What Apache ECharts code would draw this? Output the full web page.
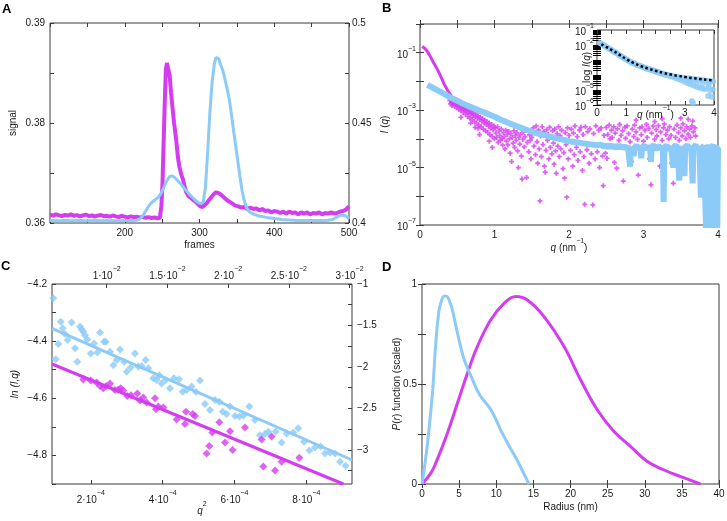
<!DOCTYPE html>
<html><head><meta charset="utf-8">
<script src="https://cdn.jsdelivr.net/npm/echarts@6/dist/echarts.min.js"></script>
<style>html,body{margin:0;padding:0;background:#fff}#c{width:727px;height:521px}</style>
</head><body><div id="c"></div>
<script>
// ---------- Panel A ----------
const aMagFrames = [100,104,108,112,116,120,124,128,132,136,140,144,148,152,156,160,164,168,172,176,180,184,188,192,196,200,204,208,212,216,220,224,228,232,236,240,244,247,249,250.5,252,253.5,255,256.5,258,260,262,264,266,269,271,273,275.5,278,280,282,285,289,292,295,298,301,304,307,310,313,316,319,322,325,328,331,334,337,340,344,348,352,356,360,364,368,372,376,380,384,388,392,396,400,404,408,412,416,420,424,428,432,436,440,444,448,452,456,460,464,468,472,476,480,484,488,492,496,500];
const aMag = [0.36125,0.36110,0.36130,0.36115,0.36105,0.36120,0.36112,0.36130,0.36108,0.36118,0.36100,0.36115,0.36125,0.36105,0.36112,0.36098,0.36110,0.36120,0.36102,0.36108,0.36095,0.36112,0.36100,0.36090,0.36105,0.36095,0.36085,0.36100,0.36088,0.36095,0.36080,0.36092,0.36078,0.36088,0.36075,0.36082,0.36070,
0.36078,0.3625,0.3660,0.3720,0.3780,0.3830,0.3840,0.3832,0.3822,0.3795,0.3772,0.3750,0.3723,0.3700,0.3685,0.3673,0.3665,0.3655,0.3647,0.3641,0.3637,0.3634,0.3632,0.3628,0.3625,0.3624,0.3627,0.3630,0.3635,0.3639,0.3643,0.3646,0.3645,0.3643,0.3640,0.3637,0.3634,0.3632,
0.3629,0.3626,0.3625,0.3623,0.3624,0.3621,0.3623,0.3621,0.3622,0.3619,0.3621,0.3618,0.3619,0.3616,0.3618,0.3617,0.3615,0.3617,0.3614,0.3617,0.3615,0.3616,0.3613,0.3616,0.3614,0.3616,0.3613,0.3615,0.3614,0.3616,0.3613,0.3615,0.3614,0.3616,0.3614,0.3615,0.3617,0.3618,0.3620,0.3625];
const aBlueFrames = [100,110,120,130,140,150,160,170,180,190,200,210,216,220,224,228,232,236,240,244,248,252,256,260,263,266,270,275,280,285,290,295,299,302,305,308,311,314,317,320,322,324,326,328,331,334,337,340,343,346,349,352,354,357,360,363,367,372,380,390,400,410,420,430,440,450,460,470,478,484,488,492,496,500];
const aBlue = [.4012,.4011,.4012,.4011,.4012,.4011,.4012,.4011,.4012,.4011,.4012,.4012,.4014,.4020,.4035,.4060,.4085,.4102,.4115,.4125,.4145,.4175,.4210,.4232,
.4236,.4230,.4215,.4195,.4172,.4150,.4130,.4112,.4100,.4098,.4105,.4180,.4360,.4560,.4710,.4800,.4828,.4832,.4820,.4795,
.4765,.4720,.4670,.4615,.4535,.4450,.4370,.4290,.4235,.4160,.4110,.4075,.4055,.4045,.4035,.4028,.4022,.4018,.4015,.4013,.4012,.4012,.4012,.4013,.4018,.4030,.4038,.4040,.4034,.4022];
const aXLabelVals = [200,300,400,500];
const aLeftLabelVals = [0.36,0.375,0.39];
const aLeftLabels = ['0.36','0.38','0.39'];
const aRightLabelVals = [0.4,0.45,0.5];
const aRightLabels = ['0.4','0.45','0.5'];

// ---------- Panel B (log10 of I) ----------
const bMagLineQ = [0.03,0.06,0.10,0.14,0.18,0.22,0.26,0.30,0.34,0.38,0.42];
const bMagLineV = [-0.78,-0.84,-0.96,-1.14,-1.34,-1.52,-1.72,-1.95,-2.17,-2.35,-2.50];
const bMagPts = [
[0.40,-2.66],[0.41,-2.78],[0.42,-2.70],[0.43,-2.84],[0.44,-2.74],[0.45,-2.69],[0.46,-2.86],[0.47,-2.79],[0.48,-2.74],[0.49,-2.92],
[0.50,-2.83],[0.51,-2.78],[0.52,-2.97],[0.53,-2.88],[0.54,-2.82],[0.55,-3.02],[0.56,-2.93],[0.57,-2.86],[0.58,-3.08],[0.59,-2.98],
[0.60,-2.92],[0.61,-3.14],[0.62,-3.03],[0.63,-2.97],[0.64,-3.22],[0.65,-3.09],[0.66,-3.01],[0.67,-3.27],[0.68,-3.13],[0.69,-3.06],
[0.70,-3.33],[0.71,-3.18],[0.72,-3.11],[0.73,-3.40],[0.74,-3.24],[0.75,-3.15],[0.76,-3.46],[0.77,-3.28],[0.78,-3.20],[0.79,-3.52],
[0.80,-3.33],[0.81,-3.25],[0.82,-3.58],[0.83,-3.39],[0.84,-3.30],[0.85,-3.66],[0.86,-3.44],[0.87,-3.35],[0.88,-3.72],[0.89,-3.50],
[0.90,-3.40],[0.91,-3.78],[0.92,-3.56],[0.93,-3.45],[0.94,-3.86],[0.95,-3.62],[0.96,-3.50],[0.97,-3.92],[0.98,-3.68],[0.99,-3.55],
[1.00,-4.00],[0.55,-3.25],[0.68,-3.45],[0.74,-3.60],[0.78,-3.63],[0.80,-3.85],[0.93,-4.08],[0.97,-4.30],
[1.01,-3.62],[1.02,-3.80],[1.03,-3.95],[1.04,-3.58],[1.05,-4.12],[1.06,-3.72],[1.07,-3.88],[1.08,-4.05],[1.09,-3.66],[1.10,-3.98],
[1.11,-4.22],[1.12,-3.78],[1.13,-3.92],[1.14,-4.35],[1.15,-3.70],[1.16,-4.08],[1.17,-3.85],[1.18,-4.21],[1.19,-3.74],[1.20,-4.00],
[1.21,-4.50],[1.22,-3.82],[1.23,-4.79],[1.24,-3.95],[1.25,-4.15],[1.26,-3.72],[1.27,-4.30],[1.28,-3.88],[1.29,-4.05],[1.30,-3.78],
[1.31,-4.42],[1.32,-5.00],[1.33,-3.95],[1.34,-4.18],[1.35,-3.84],[1.36,-4.60],[1.37,-5.40],[1.38,-4.02],[1.39,-3.76],[1.40,-4.28],
[1.41,-3.92],[1.43,-5.35],[1.44,-4.12],[1.45,-3.70],[1.46,-4.45],[1.47,-3.86],[1.48,-4.05],[1.49,-4.70],[1.50,-3.95],
[1.52,-3.62],[1.53,-4.25],[1.54,-3.80],[1.55,-4.55],[1.56,-3.55],[1.57,-4.10],[1.58,-4.85],[1.59,-3.70],[1.60,-4.35],[1.61,-6.16],
[1.62,-3.90],[1.63,-4.62],[1.64,-3.58],[1.65,-4.20],[1.66,-3.75],[1.67,-4.95],[1.68,-5.16],[1.69,-4.40],[1.70,-3.68],[1.71,-4.05],
[1.72,-3.85],[1.73,-4.70],[1.74,-3.60],[1.75,-4.30],[1.76,-3.95],[1.77,-4.52],[1.78,-3.72],[1.79,-4.15],[1.80,-4.88],[1.81,-3.66],
[1.82,-4.42],[1.83,-5.20],[1.84,-3.82],[1.85,-4.25],[1.86,-3.58],[1.87,-4.62],[1.88,-3.90],[1.89,-4.35],[1.90,-3.70],[1.92,-5.04],
[1.93,-4.48],[1.94,-5.37],[1.95,-3.78],[1.96,-4.20],[1.97,-6.03],[1.98,-3.62],[1.99,-4.70],[2.00,-3.88],[2.02,-4.40],[2.03,-3.66],
[2.05,-4.95],[2.06,-3.80],[2.07,-4.55],[2.08,-3.55],[2.10,-4.30],[2.11,-3.92],[2.12,-4.75],[2.14,-3.70],[2.15,-4.45],[2.16,-3.60],
[2.18,-5.10],[2.19,-3.85],[2.20,-4.62],[2.21,-6.28],[2.22,-3.58],[2.24,-4.38],[2.25,-3.75],[2.27,-4.85],[2.28,-3.65],[2.30,-4.52],
[2.32,-6.30],[2.33,-3.82],[2.35,-4.70],[2.36,-3.55],[2.38,-4.45],[2.40,-3.70],[2.41,-5.00],[2.43,-3.62],[2.45,-4.60],[2.46,-5.63],
[2.47,-3.88],[2.49,-4.50],
[2.50,-3.60],[2.51,-4.68],[2.52,-3.85],[2.54,-3.52],[2.55,-4.00],[2.57,-3.70],[2.58,-3.95],[2.60,-3.58],[2.61,-4.82],[2.62,-3.80],
[2.64,-5.02],[2.65,-3.65],[2.67,-4.05],[2.68,-3.50],[2.70,-3.88],[2.72,-3.72],[2.73,-5.47],[2.75,-3.60],[2.76,-3.98],[2.78,-3.55],
[2.80,-3.82],[2.82,-4.10],[2.84,-4.79],[2.85,-3.66],[2.87,-3.92],[2.88,-3.52],[2.90,-3.76],[2.92,-4.02],[2.93,-5.26],[2.95,-3.62],
[2.97,-3.86],[2.98,-3.58],[3.00,-4.08],[3.02,-3.70],[3.04,-3.50],[3.05,-3.95],[3.07,-3.64],[3.08,-4.70],[3.10,-5.60],[3.11,-3.80],
[3.13,-3.56],[3.15,-4.02],[3.17,-3.68],[3.18,-3.90],[3.20,-3.54],[3.22,-4.95],[3.23,-3.76],[3.25,-4.05],[3.27,-3.62],[3.28,-3.48],
[3.30,-3.85],[3.32,-3.70],[3.34,-4.00],[3.35,-3.58],[3.37,-3.88],[3.38,-4.85],[3.40,-5.55],[3.41,-3.66],[3.43,-3.95],[3.45,-3.52],
[3.47,-3.78],[3.48,-4.05],[3.50,-3.62],[3.52,-3.90],[3.53,-3.48],[3.55,-3.72],[3.57,-4.00],[3.58,-3.58],[3.60,-3.84],[3.62,-3.66],
[3.63,-3.95],[3.65,-3.55],[3.67,-3.76],[3.69,-3.62],[3.70,-3.90],[2.90,-3.35],[3.25,-3.30],[3.50,-3.28],[3.60,-3.32],[3.15,-3.40],[3.66,-3.38]
];
const bBlueQ = [0.10,0.15,0.20,0.25,0.30,0.35,0.40,0.45,0.50,0.55,0.60,0.65,0.70,0.75,0.80,0.85,0.90,0.95,1.00,1.05,1.10,1.15,1.20,1.25,1.30,1.35,1.40,1.45,1.50,1.55,1.60,1.65,1.70,1.75,1.80,1.85,1.90,1.95,2.00,2.05,2.10,2.15,2.20,2.25,2.30,2.35,2.40,
2.43,2.46,2.49,2.52,2.55,2.58,2.61,2.64,2.67,2.70,2.73,2.76,2.79,2.81,2.82,2.83,2.85,2.87,2.88,2.91,2.94,2.96,2.97,2.98,3.01,3.04,3.07,3.09,3.10,3.11,3.14,3.17,3.20,3.23,3.26,3.27,3.28,3.31,3.34,3.37,3.39,3.40,3.41,3.44,3.46,3.48,3.49,3.51,3.53,3.55,3.56,3.59,3.62,3.64,3.66,3.67,3.70,3.73,3.75,3.77,3.78,3.81,3.84,3.85,3.87,3.89,3.91,3.92,3.94,3.95,3.96,3.98,3.99,4.00];
const bBlueV = [-2.12,-2.19,-2.26,-2.33,-2.40,-2.47,-2.55,-2.61,-2.67,-2.74,-2.80,-2.86,-2.91,-2.96,-3.02,-3.07,-3.12,-3.18,-3.23,-3.29,-3.35,-3.40,-3.46,-3.51,-3.56,-3.61,-3.66,-3.71,-3.75,-3.79,-3.83,-3.86,-3.89,-3.92,-3.96,-3.99,-4.02,-4.05,-4.08,-4.10,-4.12,-4.14,-4.16,-4.18,-4.20,-4.21,-4.22,
-4.20,-4.27,-4.22,-4.29,-4.21,-4.30,-4.24,-4.32,-4.22,-4.31,-4.25,-4.34,-4.24,-4.30,-4.97,-4.28,-4.22,-4.60,-4.30,-4.24,-4.35,-4.26,-4.68,-4.30,-4.22,-4.36,-4.25,-4.33,-4.80,-4.28,-4.22,-4.38,-4.24,-4.34,-4.28,-6.20,-4.30,-4.23,-4.38,-4.26,-4.32,-5.00,-4.27,-4.22,-4.36,-5.45,-4.30,-4.24,-4.40,-5.30,-4.28,-4.22,-4.37,-4.26,-5.55,-4.30,-4.22,-4.38,-4.26,-6.05,-4.32,-4.24,-7.20,-4.36,-4.22,-4.35,-7.20,-4.30,-4.20,-6.20,-4.34,-4.22,-7.20,-4.30];
const bXLabelVals = [0,1,2,3,4];
const bYLabelVals = [-7,-5,-3,-1];

// ---------- Inset ----------
const insetPts = [
[0.10,-1.86],[0.15,-1.92],[0.20,-1.99],[0.25,-2.04],[0.30,-2.10],[0.35,-2.16],[0.40,-2.21],[0.45,-2.28],[0.50,-2.34],[0.55,-2.41],
[0.60,-2.47],[0.65,-2.52],[0.70,-2.59],[0.75,-2.66],[0.80,-2.72],[0.85,-2.78],[0.90,-2.84],[0.95,-2.90],[1.00,-2.96],[1.05,-3.02],
[1.10,-3.08],[1.15,-3.13],[1.20,-3.18],[1.25,-3.22],[1.30,-3.27],[1.35,-3.31],[1.40,-3.35],[1.45,-3.38],[1.50,-3.42],[1.55,-3.45],
[1.60,-3.49],[1.65,-3.53],[1.70,-3.56],[1.75,-3.60],[1.80,-3.62],[1.85,-3.66],[1.90,-3.69],[1.95,-3.72],[2.00,-3.76],[2.05,-3.78],
[2.10,-3.82],[2.15,-3.85],[2.20,-3.90],[2.25,-3.91],[2.30,-3.96],[2.35,-3.97],[2.40,-4.02],[2.45,-4.00],[2.50,-4.08],[2.55,-4.05],
[2.60,-4.14],[2.65,-4.10],[2.70,-4.22],[2.75,-4.12],[2.80,-4.28],[2.85,-4.15],[2.90,-4.35],[2.95,-4.18],[3.00,-4.45],[3.05,-4.20],
[3.10,-4.55],[3.15,-4.22],[3.20,-4.62],[3.24,-5.74],[3.25,-4.25],[3.28,-5.85],[3.30,-4.70],[3.35,-4.28],[3.40,-4.78],[3.45,-4.30],
[3.50,-4.85],[3.55,-4.32],[3.60,-4.90],[3.65,-4.35],[3.70,-4.95],[3.75,-4.38],[3.80,-5.40],[3.82,-4.80],[3.85,-4.40],[3.88,-5.05],
[3.90,-4.45],[3.95,-4.95],[3.97,-4.42],[3.00,-4.30],[3.20,-4.40],[3.40,-4.50],[3.60,-4.60],[3.80,-4.60],[3.92,-5.45]
];
const insetFitQ = [0.15,0.40,0.65,0.90,1.15,1.40,1.65,1.90,2.15,2.40,2.65,2.90,3.15,3.40,3.65,3.95];
const insetFitV = [-1.95,-2.22,-2.50,-2.82,-3.10,-3.33,-3.51,-3.66,-3.80,-3.92,-4.02,-4.10,-4.18,-4.24,-4.30,-4.36];
const insetXLabelVals = [0,1,3,4];
const insetYLabelVals = [-1,-2,-5,-6];
const insetDecades = [-6,-5,-4,-3,-2,-1];
const insetMantissas = [2,3,4,5,6,7,8,9];

// ---------- Panel C ----------
const cBlueQ2 = [0.957e-4,1.022e-4,1.096e-4,1.161e-4,1.217e-4,1.282e-4,1.356e-4,1.467e-4,1.560e-4,1.625e-4,1.699e-4,1.746e-4,1.792e-4,1.838e-4,1.903e-4,1.996e-4,2.089e-4,2.182e-4,2.256e-4,2.367e-4,2.414e-4,2.534e-4,2.627e-4,2.720e-4,2.812e-4,2.924e-4,2.998e-4,3.109e-4,3.230e-4,3.323e-4,3.416e-4,3.527e-4,3.601e-4,3.740e-4,3.833e-4,3.907e-4,3.972e-4,4.083e-4,4.204e-4,4.315e-4,4.454e-4,4.557e-4,4.668e-4,4.807e-4,4.928e-4,5.039e-4,5.178e-4,5.317e-4,5.456e-4,5.577e-4,5.670e-4,5.781e-4,5.874e-4,6.013e-4,6.133e-4,6.245e-4,6.412e-4,6.569e-4,6.709e-4,6.848e-4,6.940e-4,7.145e-4,7.312e-4,7.451e-4,7.636e-4,7.776e-4,7.933e-4,8.082e-4,8.239e-4,8.397e-4,8.518e-4,8.657e-4,8.796e-4,8.935e-4,9.093e-4];
const cBlueV = [-4.250,-4.463,-4.410,-4.332,-4.355,-4.375,-4.396,-4.335,-4.425,-4.472,-4.349,-4.359,-4.367,-4.379,-4.394,-4.443,-4.408,-4.440,-4.370,-4.402,-4.402,-4.437,-4.484,-4.466,-4.429,-4.472,-4.507,-4.492,-4.443,-4.489,-4.487,-4.466,-4.495,-4.530,-4.536,-4.519,-4.548,-4.536,-4.565,-4.530,-4.533,-4.577,-4.571,-4.559,-4.578,-4.538,-4.620,-4.641,-4.606,-4.612,-4.647,-4.655,-4.629,-4.662,-4.664,-4.660,-4.629,-4.676,-4.729,-4.725,-4.717,-4.716,-4.755,-4.723,-4.720,-4.705,-4.752,-4.783,-4.772,-4.769,-4.793,-4.790,-4.793,-4.822,-4.836];
const cMagQ2 = [1.792e-4,1.996e-4,2.163e-4,2.256e-4,2.349e-4,2.423e-4,2.534e-4,2.673e-4,2.766e-4,2.831e-4,2.905e-4,3.016e-4,3.119e-4,3.295e-4,3.369e-4,3.462e-4,3.555e-4,3.787e-4,3.814e-4,3.879e-4,4.018e-4,4.390e-4,4.621e-4,4.649e-4,4.835e-4,4.900e-4,5.224e-4,5.299e-4,5.382e-4,5.577e-4,5.735e-4,5.874e-4,5.948e-4,6.291e-4,6.755e-4,6.801e-4,7.033e-4,7.126e-4,7.312e-4,7.803e-4];
const cMagV = [-4.534,-4.538,-4.545,-4.557,-4.565,-4.557,-4.548,-4.571,-4.569,-4.565,-4.573,-4.592,-4.589,-4.583,-4.608,-4.597,-4.615,-4.600,-4.638,-4.629,-4.632,-4.674,-4.690,-4.647,-4.655,-4.662,-4.793,-4.767,-4.720,-4.684,-4.755,-4.715,-4.781,-4.702,-4.744,-4.839,-4.734,-4.853,-4.822,-4.808];
const cBlueFitQ2 = [0.92e-4,9.27e-4];
const cBlueFitV = [-4.355,-4.816];
const cMagFitQ2 = [0.92e-4,9.03e-4];
const cMagFitV = [-4.48,-4.90];
const cXLabelVals = [2e-4,4e-4,6e-4,8e-4];
const cTopLabelVals = [0.01,0.015,0.02,0.025,0.03];
const cLeftLabelVals = [-4.8,-4.6,-4.4,-4.2];
const cRightTickVals = [-1,-1.25,-1.5,-1.75,-2,-2.25,-2.5,-2.75,-3,-3.25];
const cRightLabelVals = [-1,-1.5,-2,-2.5,-3];

// ---------- Panel D ----------
const dBlueR = [0,0.7,1.4,1.85,2.3,2.7,3.0,3.4,3.8,4.1,4.8,5.7,6.6,7.7,9.3,11.0,12.8,13.7,14.4];
const dBlueV = [0,0.19,0.45,0.70,0.87,0.925,0.94,0.937,0.905,0.87,0.75,0.62,0.54,0.45,0.37,0.24,0.12,0.053,0];
const dMagR = [0,1.17,1.84,3.41,4.76,6.11,7.45,9.25,11.05,12.62,14.19,16.43,19.13,21.37,23.62,25.86,28.11,30.35,32.6,34.84,37.5];
const dMagV = [0,0.053,0.103,0.253,0.403,0.553,0.687,0.82,0.903,0.937,0.92,0.837,0.687,0.52,0.37,0.262,0.187,0.112,0.07,0.037,0];
const dYLabelVals = [0,0.5,1];

// ---------- styling ----------
const FONT = '"Liberation Sans", Arial, sans-serif';
const TXT = '#1a1a1a';
const FRAME = '#3a3a3a';
const MAG = '#d43cf0';
const BLU = '#8ccaf8';
const MINUS = '\u2212';
const RICH = {
  n: {fontSize:10, fontFamily:FONT, color:TXT, lineHeight:15, verticalAlign:'bottom'},
  i: {fontSize:10, fontFamily:FONT, color:TXT, fontStyle:'italic', lineHeight:15, verticalAlign:'bottom'},
  s: {fontSize:7, fontFamily:FONT, color:TXT, verticalAlign:'top'}
};
const zip = (a,b) => a.map((v,i)=>[v,b[i]]);
function merge(a,b){
  const o = Object.assign({}, a);
  for (const k in b){
    const bv=b[k], av=a?a[k]:undefined;
    if (bv && typeof bv==='object' && !Array.isArray(bv) && av && typeof av==='object' && !Array.isArray(av)) o[k]=merge(av,bv);
    else o[k]=bv;
  }
  return o;
}
const BASE = {
  type:'value', axisLine:{show:false}, splitLine:{show:false}, nameLocation:'middle', nameMoveOverlap:false,
  axisTick:{show:true, inside:true, length:4, lineStyle:{color:FRAME, width:1}},
  axisLabel:{show:true, fontSize:10, color:TXT, fontFamily:FONT, margin:5, rich:RICH, hideOverlap:false},
  nameTextStyle:{fontSize:10, color:TXT, fontFamily:FONT, rich:RICH}
};
const ax = o => merge(BASE, o);
const supFmt = v => '{n|10}{s|' + MINUS + Math.round(-v) + '}';
const pick = (vals, labels) => v => { let bi=0; vals.forEach((x,i)=>{ if (Math.abs(x-v) < Math.abs(vals[bi]-v)) bi=i; }); return labels[bi]; };

const insetTicks = [];
insetDecades.forEach(d => { insetTicks.push(d); if (d < -1) insetMantissas.forEach(m => insetTicks.push(d + Math.log10(m))); });

const gridBase = {show:true, borderColor:FRAME, borderWidth:1, backgroundColor:'transparent', containLabel:false, outerBoundsMode:'none'};
const PLUS = 'path://M1.6,0H3.4V1.6H5V3.4H3.4V5H1.6V3.4H0V1.6H1.6Z';

const option = {
  animation:false,
  backgroundColor:'#fff',
  textStyle:{fontFamily:FONT},
  grid:[
    merge(gridBase,{left:50, top:23, width:299, height:200}),
    merge(gridBase,{left:420, top:24, width:298, height:201}),
    merge(gridBase,{left:597, top:30, width:117, height:75, backgroundColor:'#fff', z:10}),
    merge(gridBase,{left:52, top:284, width:300, height:200}),
    merge(gridBase,{left:422, top:284, width:297, height:200})
  ],
  xAxis:[
    ax({gridIndex:0, position:'bottom', min:100, max:500, interval:50,
        axisLabel:{customValues:aXLabelVals, formatter:v=>String(v)}, name:'frames', nameGap:17}),
    ax({gridIndex:0, position:'top', min:100, max:500, interval:50, axisLabel:{show:false}}),
    ax({gridIndex:1, position:'bottom', min:0, max:4, interval:0.5,
        axisLabel:{customValues:bXLabelVals, formatter:v=>String(v)}, name:'{i|q}{n| (nm}{s|'+MINUS+'1}{n|)}', nameGap:13}),
    ax({gridIndex:1, position:'top', min:0, max:4, interval:0.5, axisLabel:{show:false}}),
    ax({gridIndex:2, position:'bottom', min:0, max:4, interval:0.5, z:11,
        axisLabel:{customValues:insetXLabelVals, formatter:v=>String(v), margin:3}, name:'{i|q}{n| (nm}{s|'+MINUS+'1}{n|)}', nameGap:0}),
    ax({gridIndex:2, position:'top', min:0, max:4, interval:0.5, z:11, axisLabel:{show:false}}),
    ax({gridIndex:3, position:'bottom', min:0.92e-4, max:9.27e-4,
        axisTick:{customValues:cXLabelVals}, axisLabel:{customValues:cXLabelVals, margin:6,
        formatter:v=>'{n|'+Math.round(v*1e4)+'\u00b710}{s|'+MINUS+'4}'}, name:'{i|q}{s|2}', nameGap:17}),
    ax({gridIndex:3, position:'top', min:0.0055, max:0.0302,
        axisTick:{customValues:cTopLabelVals}, axisLabel:{customValues:cTopLabelVals, margin:3,
        formatter:v=>'{n|'+(Math.round(v*1000)/10)+'\u00b710}{s|'+MINUS+'2}'}}),
    ax({gridIndex:4, position:'bottom', min:0, max:40, interval:5, name:'Radius (nm)', nameGap:18}),
    ax({gridIndex:4, position:'top', min:0, max:40, interval:5, axisLabel:{show:false}})
  ],
  yAxis:[
    ax({gridIndex:0, position:'left', min:0.36, max:0.39, interval:0.0075,
        axisLabel:{customValues:aLeftLabelVals, formatter:pick(aLeftLabelVals,aLeftLabels)}, name:'signal', nameGap:32}),
    ax({gridIndex:0, position:'right', min:0.4, max:0.5, interval:0.025,
        axisLabel:{customValues:aRightLabelVals, formatter:pick(aRightLabelVals,aRightLabels), margin:3}}),
    ax({gridIndex:1, position:'left', min:-7, max:0, interval:1,
        axisLabel:{customValues:bYLabelVals, formatter:supFmt, margin:4}, name:'{i|I}{n| (}{i|q}{n|)}', nameGap:30}),
    ax({gridIndex:1, position:'right', min:-7, max:0, interval:1, axisLabel:{show:false}}),
    ax({gridIndex:2, position:'left', min:-6, max:-1, z:11,
        axisTick:{customValues:insetTicks, length:4, lineStyle:{color:'#000', width:1}},
        axisLabel:{customValues:insetYLabelVals, formatter:supFmt, margin:3}, name:'{n|log }{i|I}{n|(}{i|q}{n|)}', nameGap:5}),
    ax({gridIndex:2, position:'right', min:-6, max:-1, z:11,
        axisTick:{customValues:insetTicks, length:4, lineStyle:{color:'#000', width:1}}, axisLabel:{show:false}}),
    ax({gridIndex:3, position:'left', min:-4.9, max:-4.2, interval:0.1,
        axisLabel:{customValues:cLeftLabelVals, formatter:v=>MINUS+(-v).toFixed(1)}, name:'ln (I,q)', nameGap:32,
        nameTextStyle:{fontStyle:'italic'}}),
    ax({gridIndex:3, position:'right', min:-3.41, max:-1,
        axisTick:{customValues:cRightTickVals}, axisLabel:{customValues:cRightLabelVals, formatter:v=>MINUS+String(Math.round(-v*10)/10), margin:5}}),
    ax({gridIndex:4, position:'left', min:0, max:1, interval:0.25,
        axisLabel:{customValues:dYLabelVals, formatter:v=>String(v)}, name:'{i|P}{n|(}{i|r}{n|) function (scaled)}', nameGap:20}),
    ax({gridIndex:4, position:'right', min:0, max:1, interval:0.25, axisLabel:{show:false}})
  ],
  series:[
    {type:'line', xAxisIndex:0, yAxisIndex:0, data:zip(aMagFrames,aMag), showSymbol:false, symbol:'none',
     lineStyle:{color:MAG, width:4}},
    {type:'line', xAxisIndex:0, yAxisIndex:1, data:zip(aBlueFrames,aBlue), showSymbol:false, symbol:'none',
     lineStyle:{color:BLU, width:3}},
    {type:'scatter', xAxisIndex:2, yAxisIndex:2, data:bMagPts, symbol:PLUS, symbolSize:5,
     itemStyle:{color:MAG, borderWidth:0}},
    {type:'line', xAxisIndex:2, yAxisIndex:2, data:zip(bMagLineQ,bMagLineV), showSymbol:false, symbol:'none', smooth:0.3,
     lineStyle:{color:MAG, width:3}},
    {type:'line', xAxisIndex:2, yAxisIndex:2, data:zip(bBlueQ,bBlueV), showSymbol:false, symbol:'none',
     lineStyle:{color:BLU, width:6, join:'bevel'}},
    {type:'scatter', xAxisIndex:4, yAxisIndex:4, data:insetPts, symbol:'circle', symbolSize:6, z:12,
     itemStyle:{color:BLU}},
    {type:'line', xAxisIndex:4, yAxisIndex:4, data:zip(insetFitQ,insetFitV), showSymbol:false, symbol:'none', smooth:0.3, z:13,
     lineStyle:{color:'#000', width:2.5, type:[2.5,2.5]}},
    {type:'scatter', xAxisIndex:6, yAxisIndex:6, data:zip(cBlueQ2,cBlueV), symbol:'diamond', symbolSize:8, itemStyle:{color:BLU}},
    {type:'scatter', xAxisIndex:6, yAxisIndex:6, data:zip(cMagQ2,cMagV), symbol:'diamond', symbolSize:8, itemStyle:{color:MAG}},
    {type:'line', xAxisIndex:6, yAxisIndex:6, data:zip(cBlueFitQ2,cBlueFitV), showSymbol:false, symbol:'none',
     lineStyle:{color:BLU, width:3}},
    {type:'line', xAxisIndex:6, yAxisIndex:6, data:zip(cMagFitQ2,cMagFitV), showSymbol:false, symbol:'none',
     lineStyle:{color:MAG, width:3}},
    {type:'line', xAxisIndex:8, yAxisIndex:8, data:zip(dMagR,dMagV), showSymbol:false, symbol:'none', smooth:0.4,
     lineStyle:{color:MAG, width:3}},
    {type:'line', xAxisIndex:8, yAxisIndex:8, data:zip(dBlueR,dBlueV), showSymbol:false, symbol:'none', smooth:0.4,
     lineStyle:{color:BLU, width:3}}
  ],
  graphic:[
    {type:'text', left:2, top:3, style:{text:'A', fontSize:13, fontWeight:'bold', fontFamily:FONT, fill:'#000'}},
    {type:'text', left:382, top:2, style:{text:'B', fontSize:13, fontWeight:'bold', fontFamily:FONT, fill:'#000'}},
    {type:'text', left:1, top:260, style:{text:'C', fontSize:13, fontWeight:'bold', fontFamily:FONT, fill:'#000'}},
    {type:'text', left:382, top:261, style:{text:'D', fontSize:13, fontWeight:'bold', fontFamily:FONT, fill:'#000'}}
  ]
};
const chart = echarts.init(document.getElementById('c'), null, {renderer:'canvas'});
chart.setOption(option);
</script></body></html>
